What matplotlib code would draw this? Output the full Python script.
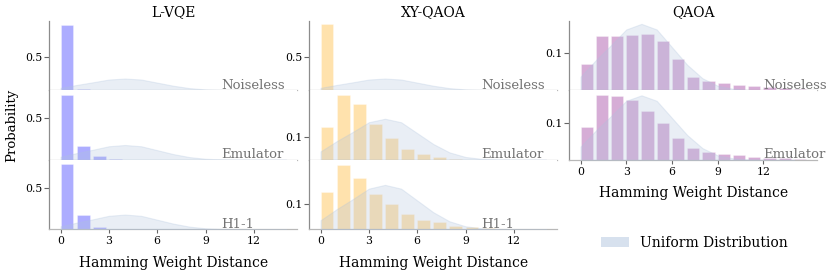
import numpy as np
import matplotlib
matplotlib.use('Agg')
import matplotlib.pyplot as plt
from matplotlib.patches import Patch

plt.rcParams['font.family'] = 'DejaVu Serif'

# hamming weight distance bins
dist = np.arange(15)

# reference curve (uniform sampling over all bitstrings)
uniform = [0.036, 0.080, 0.120, 0.162, 0.177, 0.162, 0.115, 0.068, 0.032,
           0.012, 0.004, 0.001, 0.0002, 0.0, 0.0]

lvqe_noiseless = [0.985, 0.012, 0.002, 0.001]
lvqe_emulator  = [0.774, 0.162, 0.043, 0.007, 0.002]
lvqe_h1        = [0.786, 0.167, 0.031, 0.006, 0.002]

xy_noiseless = [0.995, 0.003, 0.001]
xy_emulator  = [0.1416, 0.279, 0.2416, 0.156, 0.096, 0.0485, 0.026, 0.011, 0.003]
xy_h1        = [0.149, 0.258, 0.203, 0.1395, 0.100, 0.062, 0.037, 0.029, 0.014,
                0.008, 0.004]

qaoa_noiseless = [0.071, 0.145, 0.145, 0.1476, 0.150, 0.130, 0.0846, 0.035, 0.025,
                  0.020, 0.0144, 0.011, 0.008, 0.006, 0.002]
qaoa_emulator  = [0.091, 0.178, 0.174, 0.163, 0.134, 0.101, 0.059, 0.033, 0.021,
                  0.015, 0.012, 0.008, 0.0055, 0.0036, 0.002]

titles = ['L-VQE', 'XY-QAOA', 'QAOA']
colors = ['blue', 'orange', 'purple']
runs = ['Noiseless', 'Emulator', 'H1-1']
data = [
    [lvqe_noiseless, lvqe_emulator, lvqe_h1],
    [xy_noiseless, xy_emulator, xy_h1],
    [qaoa_noiseless, qaoa_emulator],
]
yticks = [[0.5, 0.5, 0.5], [0.5, 0.1, 0.1], [0.1, 0.1]]
ylims = [[1.052, 0.833, 0.835], [1.052, 0.300, 0.277], [0.1854, 0.191]]
xlims = [(-0.7, 14.7), (-0.7, 14.7), (-0.74, 15.54)]
label_x = [10, 10, 12]

fig = plt.figure(figsize=(8.3, 2.76), dpi=100)
gs = fig.add_gridspec(3, 3, left=0.0594, right=0.9847, top=0.925, bottom=0.1692,
                      wspace=0.048, hspace=0)

for c in range(3):
    nrows = len(data[c])
    for r in range(nrows):
        ax = fig.add_subplot(gs[r, c])
        vals = data[c][r]
        ax.bar(dist[:len(vals)], vals, width=0.8, align='edge', color=colors[c],
               alpha=0.32, edgecolor='white', linewidth=0.6, zorder=2)
        ax.fill_between(dist, uniform, color='lightsteelblue', alpha=0.28,
                        linewidth=0.8, zorder=3)
        ax.set_xlim(xlims[c])
        ax.set_ylim(0, ylims[c][r])
        ax.set_yticks([yticks[c][r]])
        ax.set_yticklabels([f'{yticks[c][r]:g}'])
        ax.tick_params(axis='y', labelsize=7.8, length=3.5, width=0.8, pad=1.5,
                       color='0.4')
        for s in ['top', 'right']:
            ax.spines[s].set_visible(False)
        ax.spines['left'].set_color('0.55')
        ax.spines['bottom'].set_color('0.72')
        ax.spines['left'].set_linewidth(0.9)
        ax.spines['bottom'].set_linewidth(0.9)
        ax.text(label_x[c], 0.017 * ylims[c][r] / 0.9, runs[r], fontsize=9.5,
                color='0.45', ha='left', va='baseline', zorder=5)
        if r == nrows - 1:
            ax.set_xticks([0, 3, 6, 9, 12])
            ax.tick_params(axis='x', labelsize=7.8, length=3, width=0.8, pad=2,
                           color='0.4')
            ax.set_xlabel('Hamming Weight Distance', fontsize=10, labelpad=7)
        else:
            ax.set_xticks([])
        if r == 0:
            ax.set_title(titles[c], fontsize=10, pad=3)
        if c == 0 and r == 1:
            ax.set_ylabel('Probability', fontsize=9.5, labelpad=5)

handle = Patch(facecolor='lightsteelblue', alpha=0.5, edgecolor='none')
fig.legend([handle], ['Uniform Distribution'], loc='center',
           bbox_to_anchor=(0.8367, 0.1196), frameon=False, fontsize=10,
           handlelength=2.0, handleheight=0.7)

fig.savefig('out.png', dpi=100)
